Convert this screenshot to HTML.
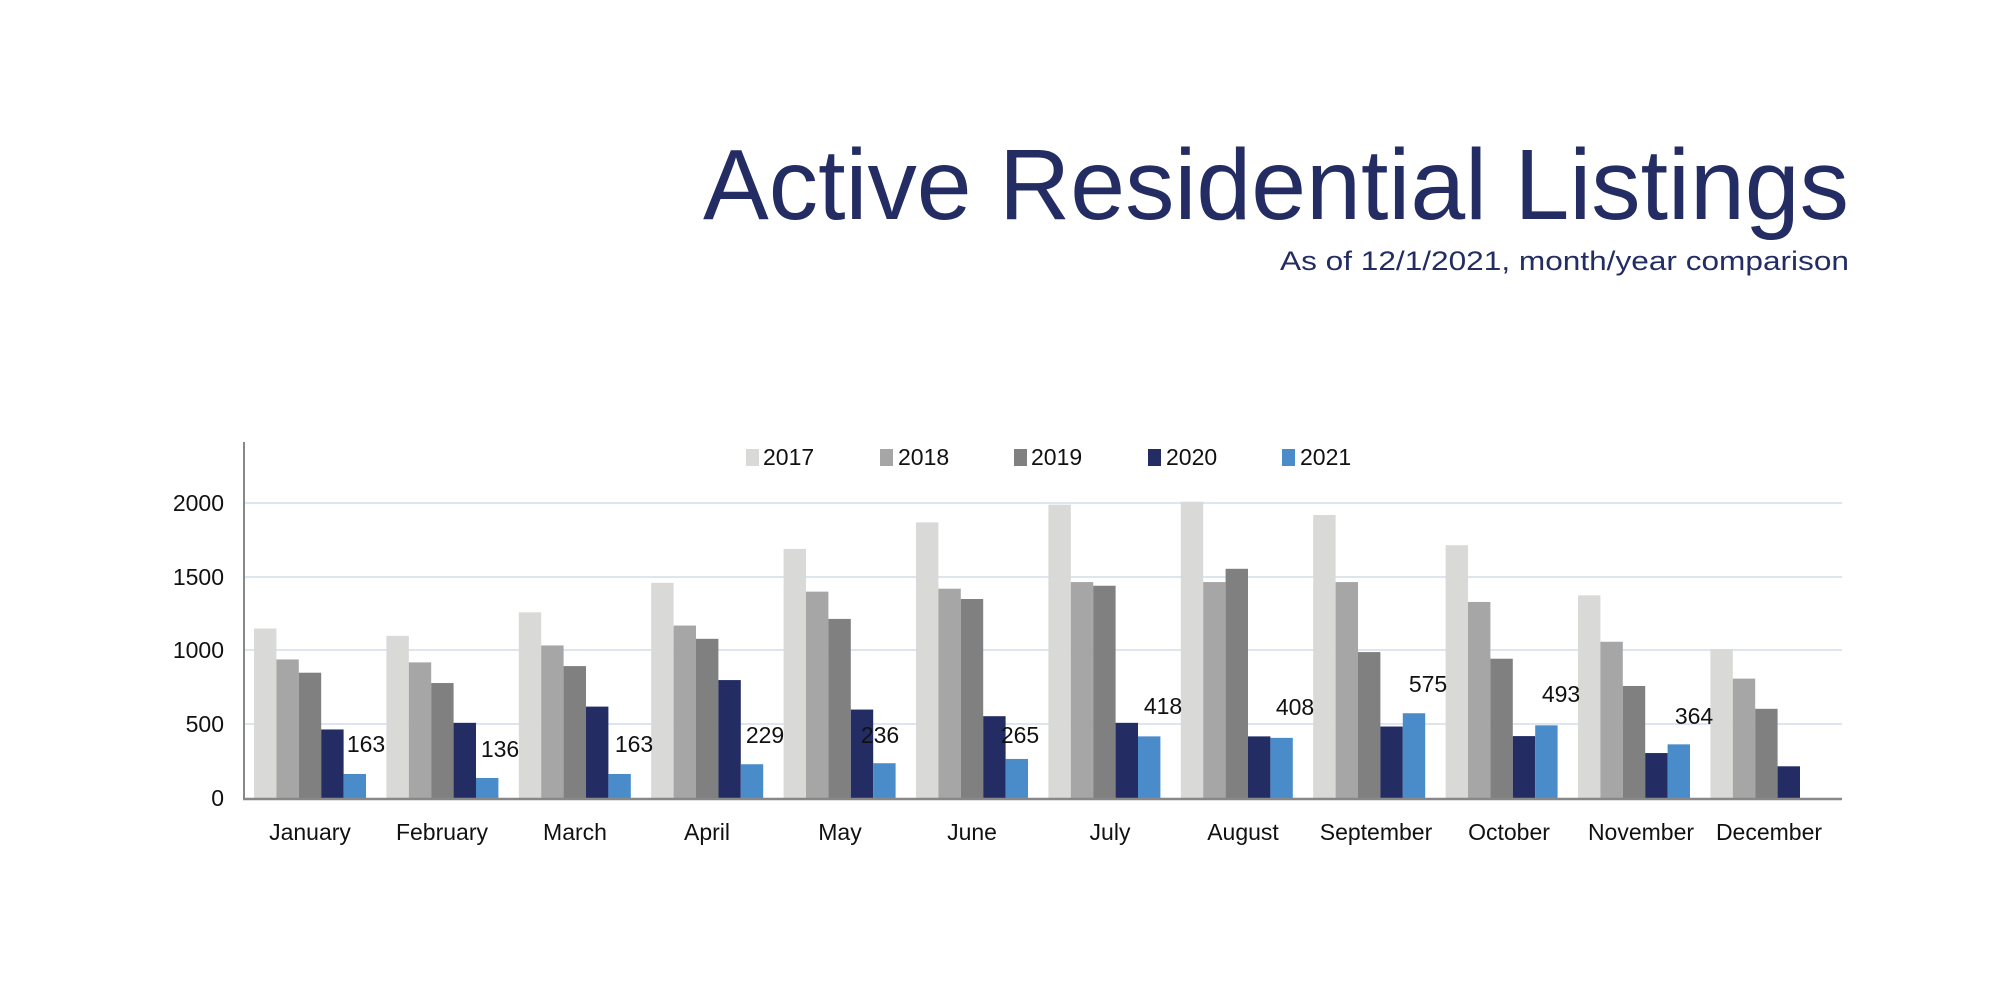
<!DOCTYPE html>
<html><head><meta charset="utf-8"><style>
html,body{margin:0;padding:0;background:#fff;}
svg{display:block;}
text{font-family:"Liberation Sans",Arial,sans-serif;}
</style></head><body>
<svg width="2000" height="1000" viewBox="0 0 2000 1000" xmlns="http://www.w3.org/2000/svg">
<rect width="2000" height="1000" fill="#fff"/>
<text x="1849" y="219" font-size="100" fill="#232c63" text-anchor="end" textLength="1146" lengthAdjust="spacingAndGlyphs">Active Residential Listings</text>
<text x="1849" y="270" font-size="27" fill="#232c63" text-anchor="end" textLength="569" lengthAdjust="spacingAndGlyphs">As of 12/1/2021, month/year comparison</text>

<g stroke="#dde5ef" stroke-width="2">
<line x1="244" y1="503" x2="1842" y2="503"/>
<line x1="244" y1="577" x2="1842" y2="577"/>
<line x1="244" y1="650" x2="1842" y2="650"/>
<line x1="244" y1="724" x2="1842" y2="724"/>
</g>

<g transform="translate(0,798) scale(1,-0.1474)">
<g fill="#d9d9d7">
<rect x="254" y="0" width="22.4" height="1150"/>
<rect x="386.4" y="0" width="22.4" height="1100"/>
<rect x="518.8" y="0" width="22.4" height="1260"/>
<rect x="651.2" y="0" width="22.4" height="1460"/>
<rect x="783.6" y="0" width="22.4" height="1690"/>
<rect x="916" y="0" width="22.4" height="1870"/>
<rect x="1048.4" y="0" width="22.4" height="1990"/>
<rect x="1180.8" y="0" width="22.4" height="2010"/>
<rect x="1313.2" y="0" width="22.4" height="1920"/>
<rect x="1445.6" y="0" width="22.4" height="1715"/>
<rect x="1578" y="0" width="22.4" height="1375"/>
<rect x="1710.4" y="0" width="22.4" height="1010"/>
</g>
<g fill="#a6a6a6">
<rect x="276.4" y="0" width="22.4" height="940"/>
<rect x="408.8" y="0" width="22.4" height="920"/>
<rect x="541.2" y="0" width="22.4" height="1035"/>
<rect x="673.6" y="0" width="22.4" height="1170"/>
<rect x="806" y="0" width="22.4" height="1400"/>
<rect x="938.4" y="0" width="22.4" height="1420"/>
<rect x="1070.8" y="0" width="22.4" height="1465"/>
<rect x="1203.2" y="0" width="22.4" height="1465"/>
<rect x="1335.6" y="0" width="22.4" height="1465"/>
<rect x="1468" y="0" width="22.4" height="1330"/>
<rect x="1600.4" y="0" width="22.4" height="1060"/>
<rect x="1732.8" y="0" width="22.4" height="810"/>
</g>
<g fill="#808080">
<rect x="298.8" y="0" width="22.4" height="850"/>
<rect x="431.2" y="0" width="22.4" height="780"/>
<rect x="563.6" y="0" width="22.4" height="895"/>
<rect x="696" y="0" width="22.4" height="1080"/>
<rect x="828.4" y="0" width="22.4" height="1215"/>
<rect x="960.8" y="0" width="22.4" height="1350"/>
<rect x="1093.2" y="0" width="22.4" height="1440"/>
<rect x="1225.6" y="0" width="22.4" height="1555"/>
<rect x="1358" y="0" width="22.4" height="990"/>
<rect x="1490.4" y="0" width="22.4" height="945"/>
<rect x="1622.8" y="0" width="22.4" height="760"/>
<rect x="1755.2" y="0" width="22.4" height="605"/>
</g>
<g fill="#232c63">
<rect x="321.2" y="0" width="22.4" height="465"/>
<rect x="453.6" y="0" width="22.4" height="510"/>
<rect x="586" y="0" width="22.4" height="620"/>
<rect x="718.4" y="0" width="22.4" height="800"/>
<rect x="850.8" y="0" width="22.4" height="600"/>
<rect x="983.2" y="0" width="22.4" height="555"/>
<rect x="1115.6" y="0" width="22.4" height="510"/>
<rect x="1248" y="0" width="22.4" height="418"/>
<rect x="1380.4" y="0" width="22.4" height="485"/>
<rect x="1512.8" y="0" width="22.4" height="420"/>
<rect x="1645.2" y="0" width="22.4" height="305"/>
<rect x="1777.6" y="0" width="22.4" height="215"/>
</g>
<g fill="#4a8cca">
<rect x="343.6" y="0" width="22.4" height="163"/>
<rect x="476" y="0" width="22.4" height="136"/>
<rect x="608.4" y="0" width="22.4" height="163"/>
<rect x="740.8" y="0" width="22.4" height="229"/>
<rect x="873.2" y="0" width="22.4" height="236"/>
<rect x="1005.6" y="0" width="22.4" height="265"/>
<rect x="1138" y="0" width="22.4" height="418"/>
<rect x="1270.4" y="0" width="22.4" height="408"/>
<rect x="1402.8" y="0" width="22.4" height="575"/>
<rect x="1535.2" y="0" width="22.4" height="493"/>
<rect x="1667.6" y="0" width="22.4" height="364"/>
</g>
</g>

<line x1="244" y1="442" x2="244" y2="799" stroke="#888" stroke-width="2"/>
<line x1="243" y1="799" x2="1842" y2="799" stroke="#888" stroke-width="2.5"/>

<g font-size="23" fill="#111" text-anchor="end">
<text x="224" y="511">2000</text>
<text x="224" y="585">1500</text>
<text x="224" y="658">1000</text>
<text x="224" y="732">500</text>
<text x="224" y="806">0</text>
</g>

<g font-size="23" fill="#111" text-anchor="middle">
<text x="310" y="840">January</text>
<text x="442" y="840">February</text>
<text x="575" y="840">March</text>
<text x="707" y="840">April</text>
<text x="840" y="840">May</text>
<text x="972" y="840">June</text>
<text x="1110" y="840">July</text>
<text x="1243" y="840">August</text>
<text x="1376" y="840">September</text>
<text x="1509" y="840">October</text>
<text x="1641" y="840">November</text>
<text x="1769" y="840">December</text>
</g>

<g font-size="23" fill="#111" text-anchor="middle">
<text x="366" y="752">163</text>
<text x="500" y="757">136</text>
<text x="634" y="752">163</text>
<text x="765" y="743">229</text>
<text x="880" y="743">236</text>
<text x="1020" y="743">265</text>
<text x="1163" y="714">418</text>
<text x="1295" y="715">408</text>
<text x="1428" y="692">575</text>
<text x="1561" y="702">493</text>
<text x="1694" y="724">364</text>
</g>

<g font-size="23" fill="#111">
<rect x="746" y="449" width="13" height="17" fill="#d9d9d7"/><text x="763" y="465">2017</text>
<rect x="880" y="449" width="13" height="17" fill="#a6a6a6"/><text x="898" y="465">2018</text>
<rect x="1014" y="449" width="13" height="17" fill="#808080"/><text x="1031" y="465">2019</text>
<rect x="1148" y="449" width="13" height="17" fill="#232c63"/><text x="1166" y="465">2020</text>
<rect x="1282" y="449" width="13" height="17" fill="#4a8cca"/><text x="1300" y="465">2021</text>
</g>
</svg>
</body></html>
